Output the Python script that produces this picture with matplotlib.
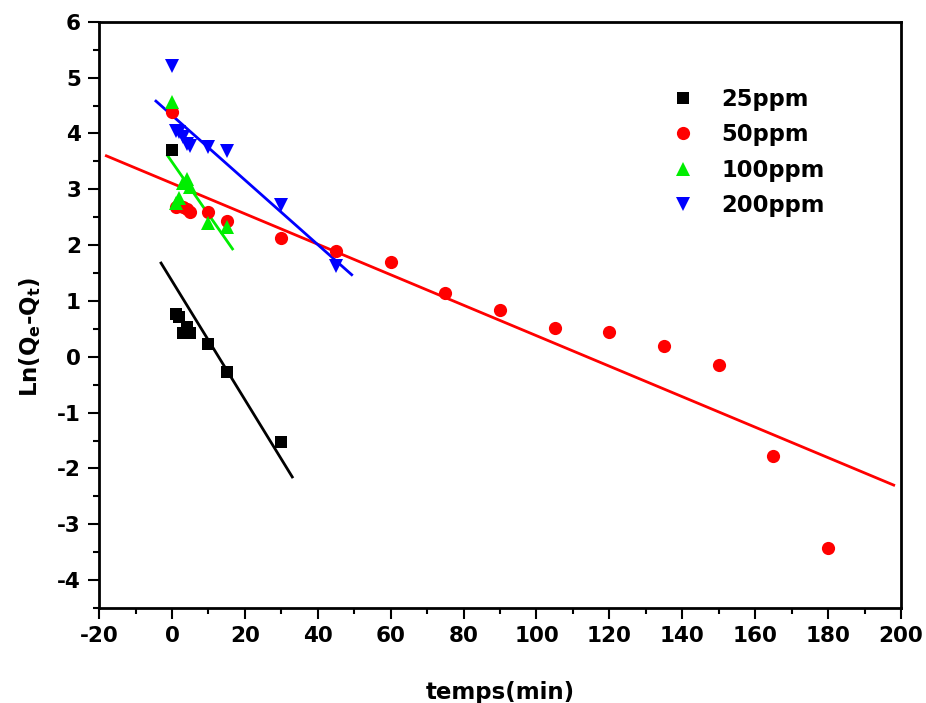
import matplotlib
matplotlib.use("Agg")
import numpy as np
import matplotlib.pyplot as plt
from matplotlib.ticker import MultipleLocator

plt.rcParams['font.family'] = ['DejaVu Sans']
plt.rcParams['font.weight'] = 'bold'
plt.rcParams['axes.unicode_minus'] = False
plt.rcParams['mathtext.fontset'] = 'custom'
plt.rcParams['mathtext.bf'] = 'DejaVu Sans:bold'
plt.rcParams['mathtext.rm'] = 'DejaVu Sans:bold'

# data
t_25 = [0, 1, 2, 3, 4, 5, 10, 15, 30]
ln_25 = [3.7, 0.76, 0.72, 0.42, 0.53, 0.42, 0.23, -0.28, -1.53]

t_50 = [0, 1, 3, 4, 5, 10, 15, 30, 45, 60, 75, 90, 105, 120, 135, 150, 165, 180]
ln_50 = [4.39, 2.68, 2.68, 2.64, 2.6, 2.6, 2.43, 2.12, 1.9, 1.7, 1.15, 0.83,
         0.52, 0.44, 0.19, -0.15, -1.77, -3.43]

t_100 = [0, 1, 2, 3, 4, 5, 10, 15]
ln_100 = [4.57, 2.75, 2.85, 3.12, 3.18, 3.05, 2.4, 2.33]

t_200 = [0, 1, 2, 3, 4, 5, 10, 15, 30, 45]
ln_200 = [5.2, 4.04, 4.02, 3.93, 3.82, 3.78, 3.76, 3.68, 2.72, 1.63]

# fitted lines: (slope, intercept, x_start, x_end)
fit_25 = (-0.1064, 1.36, -3, 33)
fit_50 = (-0.0273, 3.108, -18, 198)
fit_100 = (-0.0938, 3.49, -1.2, 16.6)
fit_200 = (-0.0579, 4.325, -4.4, 49.3)

series = [
    ("25ppm", t_25, ln_25, fit_25, 'black', 's', 8.5),
    ("50ppm", t_50, ln_50, fit_50, 'red', 'o', 9.5),
    ("100ppm", t_100, ln_100, fit_100, '#00ee00', '^', 10),
    ("200ppm", t_200, ln_200, fit_200, 'blue', 'v', 10),
]

fig = plt.figure(figsize=(9.26, 7.03), dpi=100)
ax = fig.add_axes([0.107, 0.135, 0.866, 0.834])

for name, x, y, fit, col, mk, ms in series:
    ax.plot(x, y, linestyle='none', marker=mk, color=col, markersize=ms,
            markeredgewidth=0, label=name, zorder=3)
    slope, icpt, x0, x1 = fit
    xs = np.array([x0, x1])
    ax.plot(xs, slope * xs + icpt, color=col, lw=2, zorder=2)

ax.set_xlim(-20, 200)
ax.set_ylim(-4.5, 6)
ax.xaxis.set_major_locator(MultipleLocator(20))
ax.xaxis.set_minor_locator(MultipleLocator(10))
ax.yaxis.set_major_locator(MultipleLocator(1))
ax.yaxis.set_minor_locator(MultipleLocator(0.5))
ax.tick_params(which='major', direction='out', length=8, width=1.5,
               labelsize=15.5, top=False, right=False, pad=5)
ax.tick_params(which='minor', direction='out', length=4, width=1.5,
               top=False, right=False)
for s in ax.spines.values():
    s.set_linewidth(2)

ax.set_xlabel('temps(min)', fontsize=16.5, fontweight='bold', labelpad=25)
ax.set_ylabel(r'Ln(Q$_{\mathbf{e}}$-Q$_{\mathbf{t}}$)', fontsize=16.5,
              fontweight='bold')
ax.yaxis.set_label_coords(-0.07, 0.462)

ax.legend(loc='upper left', bbox_to_anchor=(0.686, 0.922), frameon=False,
          fontsize=16.3, numpoints=1, handletextpad=1.1, labelspacing=0.55,
          handlelength=1.2)

fig.savefig('out.png', dpi=100)
